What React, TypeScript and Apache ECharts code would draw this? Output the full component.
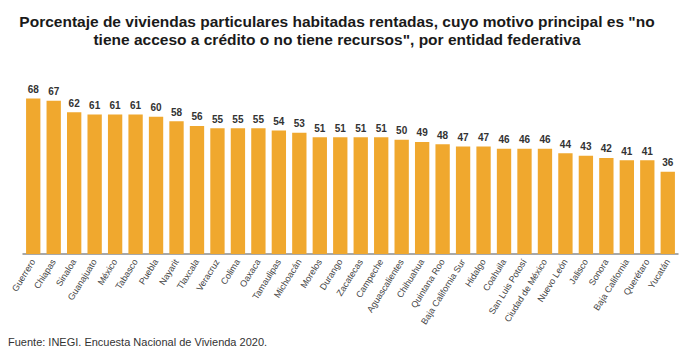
import React, { useEffect, useRef } from "react";
import * as echarts from "echarts";

const estados = [
  "Guerrero", "Chiapas", "Sinaloa", "Guanajuato", "México", "Tabasco", "Puebla", "Nayarit",
  "Tlaxcala", "Veracruz", "Colima", "Oaxaca", "Tamaulipas", "Michoacán", "Morelos", "Durango",
  "Zacatecas", "Campeche", "Aguascalientes", "Chihuahua", "Quintana Roo", "Baja California Sur",
  "Hidalgo", "Coahuila", "San Luis Potosí", "Ciudad de México", "Nuevo León", "Jalisco",
  "Sonora", "Baja California", "Querétaro", "Yucatán",
];
const porcentajes = [
  68, 67, 62, 61, 61, 61, 60, 58, 56, 55, 55, 55, 54, 53, 51, 51,
  51, 51, 50, 49, 48, 47, 47, 46, 46, 46, 44, 43, 42, 41, 41, 36,
];
const titulo =
  'Porcentaje de viviendas particulares habitadas rentadas, cuyo motivo principal es "no\ntiene acceso a crédito o no tiene recursos", por entidad federativa';
const fuente = "Fuente: INEGI. Encuesta Nacional de Vivienda 2020.";

export default function App() {
  const ref = useRef<HTMLDivElement>(null);
  useEffect(() => {
    if (!ref.current) return;
    const chart = echarts.init(ref.current, null, { renderer: "svg" });
    chart.setOption({
      animation: false,
      backgroundColor: "#ffffff",
      title: {
        text: titulo,
        left: 332,
        top: 7,
        textAlign: "center",
        textStyle: {
          fontFamily: "Liberation Sans, Arial, sans-serif",
          fontSize: 15.5,
          fontWeight: "bold",
          color: "#1a1a1a",
          lineHeight: 18,
        },
      },
      graphic: [
        {
          type: "text",
          left: 8,
          top: 336,
          style: {
            text: fuente,
            fontFamily: "Liberation Sans, Arial, sans-serif",
            fontSize: 11,
            fill: "#333",
          },
        },
      ],
      grid: { left: 23, right: 22, top: 71, bottom: 97, containLabel: false },
      xAxis: {
        type: "category",
        data: estados,
        axisLine: { lineStyle: { color: "#8c8c8c", width: 1.5 } },
        axisTick: { show: false },
        axisLabel: {
          rotate: 58,
          interval: 0,
          fontSize: 9,
          color: "#444",
          fontFamily: "Liberation Sans, Arial, sans-serif",
          margin: 6,
        },
      },
      yAxis: {
        type: "value",
        min: 0,
        max: 80,
        show: false,
        splitLine: { show: false },
      },
      series: [
        {
          type: "bar",
          data: porcentajes,
          barCategoryGap: "30%",
          itemStyle: { color: "#F0A82E" },
          label: {
            show: true,
            position: "top",
            distance: 4,
            fontSize: 10,
            fontWeight: "bold",
            color: "#333",
            fontFamily: "Liberation Sans, Arial, sans-serif",
          },
        },
      ],
    });
    return () => chart.dispose();
  }, []);
  return (
    <div
      ref={ref}
      style={{ position: "fixed", left: 0, top: 0, width: 700, height: 351 }}
    />
  );
}
